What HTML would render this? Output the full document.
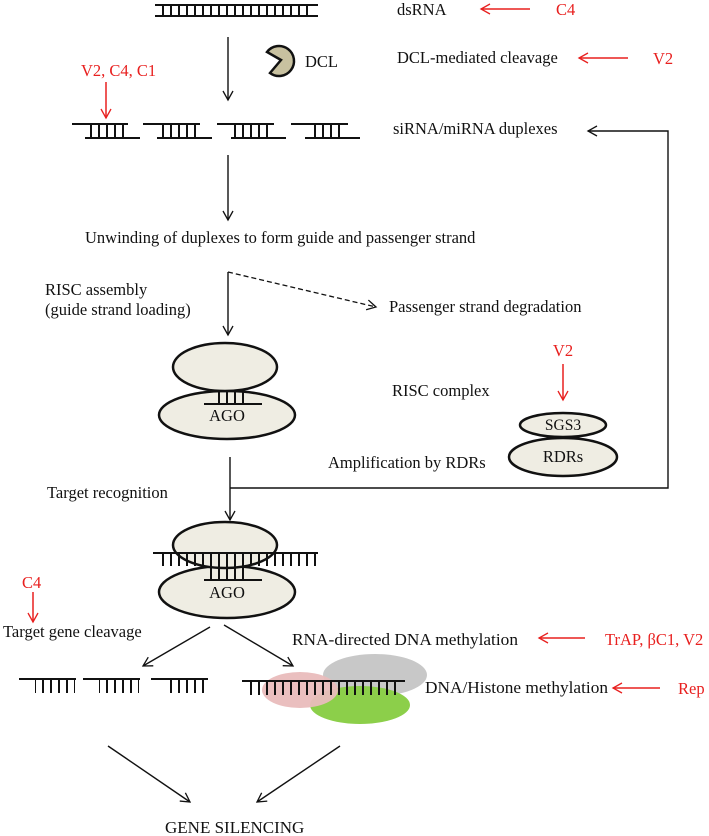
<!DOCTYPE html>
<html><head><meta charset="utf-8"><style>body{margin:0;background:#fff}svg{display:block}text{font-family:"Liberation Serif",serif;font-size:16.5px;fill:#111}.r{fill:#e8201f}</style></head><body>
<svg width="709" height="836" viewBox="0 0 709 836" xmlns="http://www.w3.org/2000/svg">
<defs>
<marker id="a" markerWidth="12" markerHeight="12" refX="10" refY="6" orient="auto" markerUnits="userSpaceOnUse"><path d="M1,1 L10,6 L1,11" fill="none" stroke="#111" stroke-width="1.3"/></marker>
<marker id="ar" markerWidth="12" markerHeight="12" refX="10" refY="6" orient="auto" markerUnits="userSpaceOnUse"><path d="M1,1 L10,6 L1,11" fill="none" stroke="#e8201f" stroke-width="1.3"/></marker>
<pattern id="t" width="8" height="20" patternUnits="userSpaceOnUse"><line x1="3" y1="0" x2="3" y2="20" stroke="#111" stroke-width="2"/></pattern>
</defs>
<line x1="155" y1="5" x2="318" y2="5" stroke="#111" stroke-width="2"/><line x1="155" y1="16" x2="318" y2="16" stroke="#111" stroke-width="2"/>
<rect x="160" y="5" width="152" height="11" fill="url(#t)"/>
<text x="397" y="15">dsRNA</text>
<line x1="530" y1="9" x2="481" y2="9" stroke="#e8201f" stroke-width="1.5" marker-end="url(#ar)"/>
<text x="556" y="15" class="r">C4</text>
<line x1="228" y1="37" x2="228" y2="100" stroke="#111" stroke-width="1.4" marker-end="url(#a)"/>
<path d="M281,60 L270,73 A15,15 0 1 0 267,52 Z" fill="#c8c1a0" stroke="#111" stroke-width="2.5"/>
<text x="305" y="67">DCL</text>
<text x="397" y="63">DCL-mediated cleavage</text>
<line x1="628" y1="58" x2="579" y2="58" stroke="#e8201f" stroke-width="1.5" marker-end="url(#ar)"/>
<text x="653" y="64" class="r">V2</text>
<text x="81" y="76" class="r">V2, C4, C1</text>
<line x1="106" y1="82" x2="106" y2="118" stroke="#e8201f" stroke-width="1.5" marker-end="url(#ar)"/>
<g stroke="#111" stroke-width="2">
<line x1="72" y1="124" x2="128" y2="124"/><line x1="85" y1="138" x2="140" y2="138"/>
<line x1="143" y1="124" x2="200" y2="124"/><line x1="157" y1="138" x2="212" y2="138"/>
<line x1="217" y1="124" x2="274" y2="124"/><line x1="231" y1="138" x2="286" y2="138"/>
<line x1="291" y1="124" x2="348" y2="124"/><line x1="305" y1="138" x2="360" y2="138"/>
</g>
<rect x="88" y="124" width="38" height="14" fill="url(#t)"/>
<rect x="160" y="124" width="38" height="14" fill="url(#t)"/>
<rect x="234" y="124" width="38" height="14" fill="url(#t)"/>
<rect x="308" y="124" width="38" height="14" fill="url(#t)"/>
<text x="393" y="134">siRNA/miRNA duplexes</text>
<polyline points="230,488 668,488 668,131 588,131" fill="none" stroke="#111" stroke-width="1.4" marker-end="url(#a)"/>
<line x1="228" y1="155" x2="228" y2="220" stroke="#111" stroke-width="1.4" marker-end="url(#a)"/>
<text x="85" y="243">Unwinding of duplexes to form guide and passenger strand</text>
<text x="45" y="295">RISC assembly</text>
<text x="45" y="315">(guide strand loading)</text>
<line x1="228" y1="272" x2="228" y2="335" stroke="#111" stroke-width="1.4" marker-end="url(#a)"/>
<line x1="228" y1="272" x2="376" y2="307" stroke="#111" stroke-width="1.3" stroke-dasharray="5,3" marker-end="url(#a)"/>
<text x="389" y="312">Passenger strand degradation</text>
<ellipse cx="227" cy="415" rx="68" ry="24" fill="#efede3" stroke="#111" stroke-width="2.5"/>
<ellipse cx="225" cy="367" rx="52" ry="24" fill="#efede3" stroke="#111" stroke-width="2.5"/>
<rect x="212" y="390" width="36" height="14" fill="url(#t)"/>
<line x1="204" y1="404" x2="262" y2="404" stroke="#111" stroke-width="2"/>
<text x="227" y="421" text-anchor="middle">AGO</text>
<text x="392" y="396">RISC complex</text>
<text x="563" y="356" class="r" text-anchor="middle">V2</text>
<line x1="563" y1="364" x2="563" y2="400" stroke="#e8201f" stroke-width="1.5" marker-end="url(#ar)"/>
<ellipse cx="563" cy="457" rx="54" ry="19" fill="#efede3" stroke="#111" stroke-width="2.5"/>
<ellipse cx="563" cy="425" rx="43" ry="12" fill="#efede3" stroke="#111" stroke-width="2.5"/>
<text x="563" y="430" text-anchor="middle" style="font-size:15.5px">SGS3</text>
<text x="563" y="462" text-anchor="middle">RDRs</text>
<text x="328" y="468">Amplification by RDRs</text>
<line x1="230" y1="457" x2="230" y2="520" stroke="#111" stroke-width="1.4" marker-end="url(#a)"/>
<text x="47" y="498">Target recognition</text>
<ellipse cx="227" cy="592" rx="68" ry="26" fill="#efede3" stroke="#111" stroke-width="2.5"/>
<ellipse cx="225" cy="545" rx="52" ry="23" fill="#efede3" stroke="#111" stroke-width="2.5"/>
<line x1="153" y1="553" x2="318" y2="553" stroke="#111" stroke-width="2"/>
<rect x="157" y="553" width="160" height="13" fill="url(#t)"/>
<rect x="209" y="566" width="40" height="14" fill="url(#t)"/>
<line x1="204" y1="580" x2="262" y2="580" stroke="#111" stroke-width="2"/>
<text x="227" y="598" text-anchor="middle">AGO</text>
<text x="22" y="588" class="r">C4</text>
<line x1="33" y1="592" x2="33" y2="622" stroke="#e8201f" stroke-width="1.5" marker-end="url(#ar)"/>
<text x="3" y="637">Target gene cleavage</text>
<line x1="210" y1="627" x2="143" y2="666" stroke="#111" stroke-width="1.4" marker-end="url(#a)"/>
<line x1="224" y1="625" x2="293" y2="666" stroke="#111" stroke-width="1.4" marker-end="url(#a)"/>
<text x="292" y="645" textLength="226" lengthAdjust="spacingAndGlyphs">RNA-directed DNA methylation</text>
<line x1="585" y1="638" x2="539" y2="638" stroke="#e8201f" stroke-width="1.5" marker-end="url(#ar)"/>
<text x="605" y="645" class="r">TrAP, βC1, V2</text>
<g stroke="#111" stroke-width="2">
<line x1="19" y1="679" x2="76" y2="679"/><line x1="83" y1="679" x2="140" y2="679"/><line x1="151" y1="679" x2="208" y2="679"/>
</g>
<rect x="35" y="679" width="40" height="14" fill="url(#t)"/>
<rect x="99" y="679" width="40" height="14" fill="url(#t)"/>
<rect x="166" y="679" width="40" height="14" fill="url(#t)"/>
<ellipse cx="375" cy="675" rx="52" ry="21" fill="#c8c8c8"/>
<ellipse cx="360" cy="705" rx="50" ry="19" fill="#8ccf4a"/>
<ellipse cx="300" cy="690" rx="38" ry="18" fill="#e9bcbc" opacity="0.95"/>
<line x1="242" y1="681" x2="405" y2="681" stroke="#111" stroke-width="2"/>
<rect x="246" y="681" width="156" height="14" fill="url(#t)"/>
<text x="425" y="693" textLength="183" lengthAdjust="spacingAndGlyphs">DNA/Histone methylation</text>
<line x1="660" y1="688" x2="613" y2="688" stroke="#e8201f" stroke-width="1.5" marker-end="url(#ar)"/>
<text x="678" y="694" class="r">Rep</text>
<line x1="108" y1="746" x2="190" y2="802" stroke="#111" stroke-width="1.4" marker-end="url(#a)"/>
<line x1="340" y1="746" x2="257" y2="802" stroke="#111" stroke-width="1.4" marker-end="url(#a)"/>
<text x="165" y="833" style="font-size:17px">GENE SILENCING</text>
</svg>
</body></html>
